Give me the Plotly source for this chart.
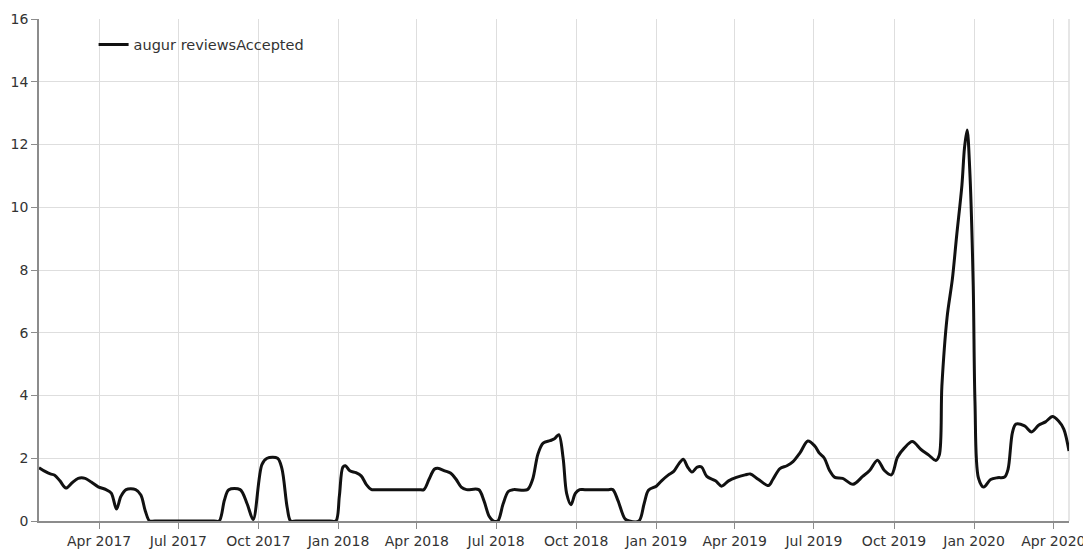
import plotly.graph_objects as go

series_name = "augur reviewsAccepted"

dates = [
    "2017-01-22", "2017-01-29", "2017-02-04", "2017-02-09", "2017-02-15", "2017-02-22",
    "2017-03-01", "2017-03-08", "2017-03-16", "2017-03-23", "2017-03-31", "2017-04-09",
    "2017-04-15", "2017-04-21", "2017-04-26", "2017-05-02", "2017-05-13", "2017-05-19",
    "2017-05-24", "2017-05-29", "2017-06-04", "2017-08-11", "2017-08-17", "2017-08-23",
    "2017-08-28", "2017-09-10", "2017-09-18", "2017-09-25", "2017-10-05", "2017-10-11",
    "2017-10-23", "2017-10-28", "2017-11-03", "2017-11-07", "2017-11-13", "2017-12-22",
    "2017-12-29", "2018-01-02", "2018-01-06", "2018-01-09", "2018-01-14", "2018-01-21",
    "2018-01-27", "2018-02-02", "2018-02-08", "2018-02-14", "2018-04-03", "2018-04-09",
    "2018-04-15", "2018-04-21", "2018-04-25", "2018-05-03", "2018-05-10", "2018-05-16",
    "2018-05-22", "2018-05-28", "2018-06-11", "2018-06-17", "2018-06-23", "2018-06-28",
    "2018-07-03", "2018-07-09", "2018-07-15", "2018-07-21", "2018-08-06", "2018-08-12",
    "2018-08-18", "2018-08-24", "2018-09-01", "2018-09-06", "2018-09-11", "2018-09-16",
    "2018-09-20", "2018-09-25", "2018-09-30", "2018-10-05", "2018-10-11", "2018-11-06",
    "2018-11-12", "2018-11-18", "2018-11-26", "2018-12-01", "2018-12-12", "2018-12-18",
    "2018-12-23", "2019-01-01", "2019-01-07", "2019-01-15", "2019-01-21", "2019-01-27",
    "2019-02-01", "2019-02-06", "2019-02-11", "2019-02-17", "2019-02-22", "2019-02-28",
    "2019-03-10", "2019-03-17", "2019-03-25", "2019-04-03", "2019-04-13", "2019-04-19",
    "2019-04-28", "2019-05-10", "2019-05-15", "2019-05-23", "2019-05-31", "2019-06-07",
    "2019-06-15", "2019-06-24", "2019-07-02", "2019-07-07", "2019-07-13", "2019-07-19",
    "2019-07-25", "2019-08-03", "2019-08-15", "2019-08-26", "2019-09-03", "2019-09-12",
    "2019-09-20", "2019-09-28", "2019-10-05", "2019-10-13", "2019-10-22", "2019-11-01",
    "2019-11-10", "2019-11-18", "2019-11-22", "2019-11-25", "2019-12-01", "2019-12-07",
    "2019-12-12", "2019-12-18", "2019-12-21", "2019-12-24", "2019-12-27", "2019-12-31",
    "2020-01-02", "2020-01-06", "2020-01-12", "2020-01-20", "2020-01-28", "2020-02-05",
    "2020-02-09", "2020-02-14", "2020-02-18", "2020-02-28", "2020-03-07", "2020-03-15",
    "2020-03-23", "2020-03-31", "2020-04-07", "2020-04-13", "2020-04-19",
]

values = [
    1.70, 1.58, 1.50, 1.46, 1.28, 1.05,
    1.22, 1.36, 1.36, 1.24, 1.09, 1.00,
    0.89, 0.38, 0.78, 1.00, 1.00, 0.83,
    0.33, 0.00, 0.00, 0.00, 0.00, 0.67,
    1.00, 1.00, 0.55, 0.05, 1.80, 2.00,
    2.00, 1.67, 0.44, 0.00, 0.00, 0.00,
    0.00, 0.80, 1.72, 1.76, 1.60, 1.54,
    1.44, 1.16, 1.00, 1.00, 1.00, 1.00,
    1.33, 1.65, 1.68, 1.60, 1.52, 1.33,
    1.08, 1.00, 1.00, 0.65, 0.15, 0.00,
    0.00, 0.54, 0.94, 1.00, 1.00, 1.33,
    2.13, 2.48, 2.56, 2.62, 2.75, 2.00,
    0.88, 0.52, 0.88, 1.00, 1.00, 1.00,
    1.00, 0.65, 0.07, 0.00, 0.00, 0.55,
    0.98, 1.11, 1.28, 1.47, 1.58, 1.83,
    1.97, 1.72, 1.56, 1.72, 1.72, 1.42,
    1.28, 1.11, 1.28, 1.39, 1.47, 1.50,
    1.33, 1.13, 1.33, 1.67, 1.76, 1.89,
    2.17, 2.55, 2.39, 2.17, 2.00, 1.61,
    1.39, 1.36, 1.17, 1.42, 1.61, 1.94,
    1.61, 1.47, 2.03, 2.33, 2.53, 2.28,
    2.10, 1.93, 2.10, 4.30, 6.50, 7.70,
    9.10, 10.70, 11.90, 12.46, 11.20, 7.50,
    3.80, 1.37, 1.08, 1.32, 1.38, 1.40,
    1.65, 2.82, 3.09, 3.03, 2.84, 3.05,
    3.16, 3.33, 3.19, 2.93, 2.23,
]

x_range = ["2017-01-22", "2020-04-19"]
y_range = [0, 16]
y_tick_step = 2

font_family = "DejaVu Sans"
text_color = "#333333"
grid_color = "#dedede"
axis_color = "#8c8c8c"

fig = go.Figure()
fig.add_trace(go.Scatter(
    x=dates,
    y=values,
    mode="lines",
    name=series_name,
    line=dict(color="#111111", width=3, shape="spline", smoothing=0.9),
    showlegend=True,
))

# the page body keeps its default 8px margin, so the figure is 8px smaller
fig.update_layout(
    width=1083,
    height=542,
    margin=dict(l=31, r=22, t=11, b=29),
    paper_bgcolor="white",
    plot_bgcolor="white",
    font=dict(family=font_family, size=14, color=text_color),
    legend=dict(
        x=0.053, y=0.981, xanchor="left", yanchor="top",
        bgcolor="rgba(0,0,0,0)", borderwidth=0,
        font=dict(family=font_family, size=14.5, color=text_color),
    ),
    xaxis=dict(
        type="date",
        range=x_range,
        dtick="M3",
        tick0="2017-01-01",
        tickformat="%b %Y",
        automargin=False,
        showgrid=True,
        gridcolor=grid_color,
        gridwidth=1,
        showline=True,
        linecolor=axis_color,
        linewidth=1.5,
        ticks="outside",
        ticklen=6,
        tickcolor=axis_color,
        zeroline=False,
        tickfont=dict(family=font_family, size=14, color=text_color),
    ),
    yaxis=dict(
        range=y_range,
        dtick=y_tick_step,
        tick0=0,
        automargin=False,
        showgrid=True,
        gridcolor=grid_color,
        gridwidth=1,
        showline=True,
        linecolor=axis_color,
        linewidth=1.5,
        ticks="outside",
        ticklen=6,
        tickcolor=axis_color,
        zeroline=False,
        tickfont=dict(family=font_family, size=14, color=text_color),
    ),
    shapes=[
        dict(type="line", xref="paper", yref="paper", x0=1, x1=1, y0=0, y1=1,
             line=dict(color=grid_color, width=1.5), layer="below"),
    ],
)

fig.write_html("out.html")
